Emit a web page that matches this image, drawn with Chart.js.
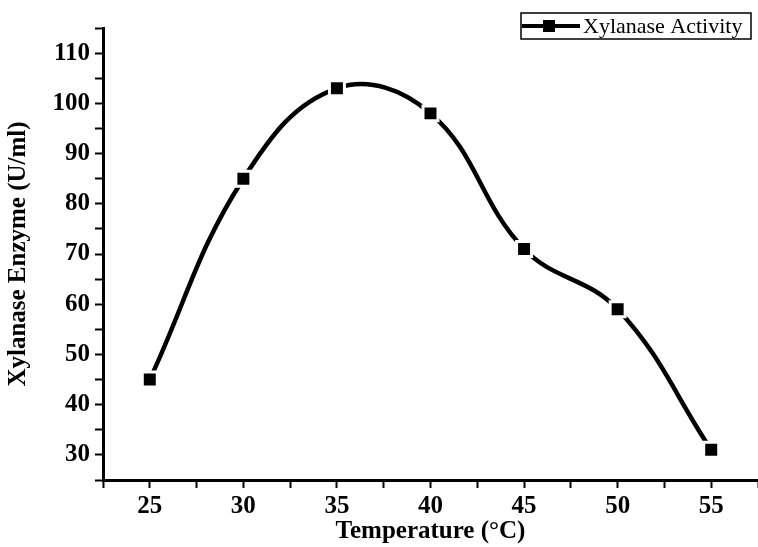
<!DOCTYPE html>
<html lang="en">
<head>
  <meta charset="UTF-8">
  <title>Xylanase Activity vs Temperature</title>
  <script src="https://cdn.jsdelivr.net/npm/chart.js"></script>
  <style>
    body { margin: 0; background: #fff; }
  </style>
</head>
<body>
<canvas id="chart" width="758" height="547"></canvas>

<script>
    const temperatures = [25, 30, 35, 40, 45, 50, 55];
    const activity = [45, 85, 103, 98, 71, 59, 31];
    const seriesLabel = 'Xylanase Activity';
    const xTitle = 'Temperature (°C)';
    const yTitle = 'Xylanase Enzyme (U/ml)';

    const serif = "'Times New Roman', 'Liberation Serif', serif";

    // legend box like the original: line + square marker inside a frame
    const boxLegend = {
        id: 'boxLegend',
        afterDraw(chart) {
            const ctx = chart.ctx;
            const ds = chart.data.datasets[0];
            ctx.save();
            ctx.strokeStyle = '#000';
            ctx.lineWidth = 1.5;
            ctx.strokeRect(521, 13, 230, 26);
            ctx.lineWidth = 4;
            ctx.beginPath();
            ctx.moveTo(522, 26);
            ctx.lineTo(580, 26);
            ctx.stroke();
            ctx.fillStyle = '#000';
            ctx.fillRect(543, 20, 12, 12);
            ctx.font = '22px ' + serif;
            ctx.textBaseline = 'middle';
            ctx.fillText(ds.label, 583, 27);
            ctx.restore();
        }
    };

    new Chart(document.getElementById('chart'), {
        type: 'line',
        data: {
            datasets: [{
                label: seriesLabel,
                data: temperatures.map((t, i) => ({ x: t, y: activity[i] })),
                borderColor: '#000',
                borderWidth: 4.5,
                tension: 0.4,
                fill: false,
                pointStyle: 'rect',
                pointRadius: 10.6,
                pointBackgroundColor: '#000',
                pointBorderColor: '#fff',
                pointBorderWidth: 3,
                pointHoverRadius: 10.6
            }]
        },
        options: {
            responsive: false,
            animation: false,
            events: [],
            layout: { autoPadding: false, padding: { top: 28, right: 0, left: 0, bottom: 0 } },
            plugins: {
                legend: { display: false },
                tooltip: { enabled: false }
            },
            scales: {
                x: {
                    type: 'linear',
                    min: 22.5,
                    max: 57.5,
                    afterFit: s => { s.height = 67; s.paddingLeft = 0; s.paddingRight = 0; },
                    border: { color: '#000', width: 3 },
                    grid: { drawOnChartArea: false, tickLength: 8, tickWidth: 2, tickColor: '#000' },
                    ticks: {
                        stepSize: 2.5,
                        padding: 4,
                        maxRotation: 0,
                        autoSkip: false,
                        color: '#000',
                        font: { family: serif, size: 25, weight: 'bold' },
                        callback: v => (v % 5 === 0 ? v : '')
                    },
                    title: {
                        display: true,
                        text: xTitle,
                        color: '#000',
                        font: { family: serif, size: 25, weight: 'bold' },
                        padding: { top: 0, bottom: 0 }
                    }
                },
                y: {
                    min: 25,
                    max: 115,
                    afterFit: s => { s.width = 103; s.paddingTop = 0; s.paddingBottom = 0; },
                    border: { color: '#000', width: 3 },
                    grid: { drawOnChartArea: false, tickLength: 8, tickWidth: 2, tickColor: '#000' },
                    ticks: {
                        stepSize: 5,
                        padding: 5,
                        autoSkip: false,
                        color: '#000',
                        font: { family: serif, size: 25, weight: 'bold' },
                        callback: v => (v % 10 === 0 ? v : '')
                    },
                    title: {
                        display: true,
                        text: yTitle,
                        color: '#000',
                        font: { family: serif, size: 25, weight: 'bold' },
                        padding: { top: 4, bottom: 0 }
                    }
                }
            }
        },
        plugins: [boxLegend]
    });
</script>
</body>
</html>
